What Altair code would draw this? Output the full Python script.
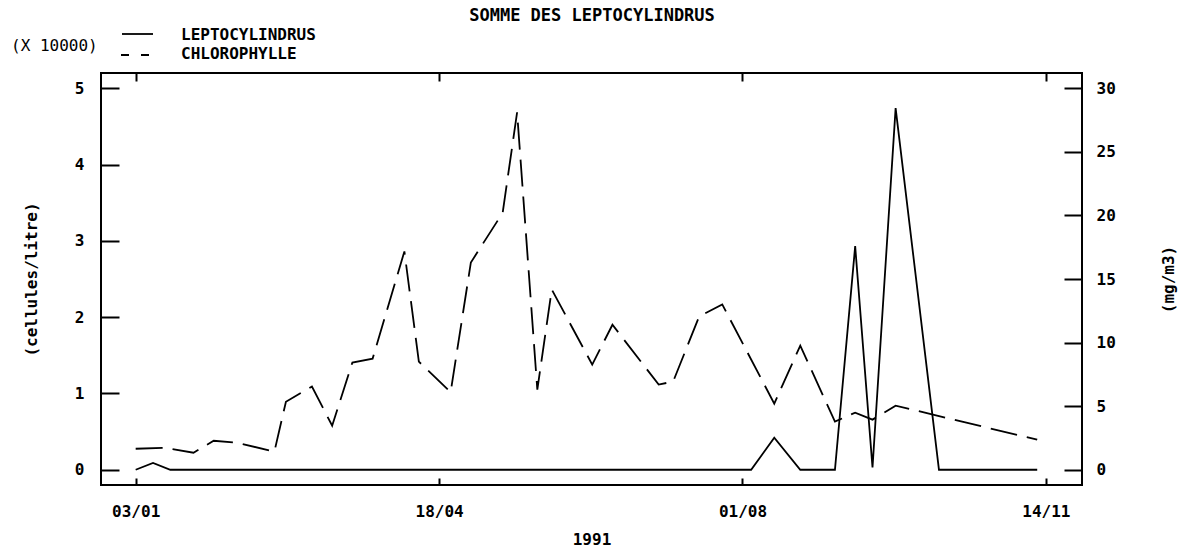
import altair as alt
import pandas as pd

# ---- data ----
lept_dates = ["1991-01-03", "1991-01-09", "1991-01-15", "1991-08-04", "1991-08-12",
              "1991-08-21", "1991-09-02", "1991-09-09", "1991-09-15", "1991-09-23",
              "1991-10-08", "1991-11-11"]
lept_values = [0, 0.09, 0, 0, 0.42, 0, 0, 2.93, 0.03, 4.74, 0, 0]  # x 10000 cells/l

chl_dates = ["1991-01-03", "1991-01-13", "1991-01-23", "1991-01-30", "1991-02-07",
             "1991-02-20", "1991-02-24", "1991-03-05", "1991-03-12", "1991-03-19",
             "1991-03-26", "1991-04-06", "1991-04-11", "1991-04-22", "1991-04-29",
             "1991-05-10", "1991-05-15", "1991-05-22", "1991-05-27", "1991-06-10",
             "1991-06-17", "1991-07-03", "1991-07-08", "1991-07-17", "1991-07-25",
             "1991-08-12", "1991-08-21", "1991-09-02", "1991-09-09", "1991-09-15",
             "1991-09-23", "1991-11-11"]
chl_values = [1.65, 1.73, 1.34, 2.28, 2.13, 1.42, 5.35, 6.54, 3.46, 8.43,
              8.74, 17.17, 8.5, 6.1, 16.3, 20.2, 28.1, 6.3, 14.17, 8.27,
              11.4, 6.7, 6.93, 12.05, 13.0, 5.2, 9.76, 3.78, 4.49, 3.94,
              5.04, 2.36]  # mg/m3

left_ticks = [0, 1, 2, 3, 4, 5]
right_ticks = [0, 5, 10, 15, 20, 25, 30]
x_tick_days = [(1, 3), (4, 18), (8, 1), (11, 14)]

FONT = "DejaVu Sans Mono"

lept_df = pd.DataFrame({"date": lept_dates, "value": lept_values})
chl_df = pd.DataFrame({"date": chl_dates, "value": chl_values})
dummy = pd.DataFrame({"a": [0]})

tick_dates = [alt.DateTime(year=1991, month=m, date=d, utc=True) for m, d in x_tick_days]
x_scale = alt.Scale(
    type="utc",
    domain=[alt.DateTime(year=1990, month=12, date=22, utc=True),
            alt.DateTime(year=1991, month=11, date=26, hours=12, utc=True)],
    nice=False,
)

lept = alt.Chart(lept_df).mark_line(color="black", strokeWidth=1.8).encode(
    x=alt.X("date:T", scale=x_scale,
            axis=alt.Axis(orient="bottom", values=tick_dates, format="%d/%m", title="1991",
                          offset=-7, tickSize=7, labelPadding=18, titlePadding=12,
                          titleFontSize=16, titleFontWeight="bold")),
    y=alt.Y("value:Q", scale=alt.Scale(domain=[-0.2, 5.2], nice=False, zero=False),
            axis=alt.Axis(orient="left", values=left_ticks, title="(cellules/litre)",
                          offset=-18, tickSize=18, labelPadding=17, titlePadding=35,
                          titleFontSize=16, titleFontWeight="bold")),
)

chl = alt.Chart(chl_df).mark_line(color="black", strokeWidth=1.8, strokeDash=[27, 10]).encode(
    x=alt.X("date:T", scale=x_scale,
            axis=alt.Axis(orient="top", values=tick_dates, labels=False, title="",
                          offset=-8, tickSize=8)),
    y=alt.Y("value:Q", scale=alt.Scale(domain=[-1.2, 31.2], nice=False, zero=False),
            axis=alt.Axis(orient="right", values=right_ticks, title="(mg/m3)", titleAngle=270,
                          offset=-18, tickSize=18, labelPadding=14, titlePadding=61,
                          titleFontSize=16, titleFontWeight="bold")),
)

title_txt = alt.Chart(dummy).mark_text(
    text="SOMME DES LEPTOCYLINDRUS", font=FONT, fontSize=17, fontWeight="bold",
    align="center", baseline="middle", color="black"
).encode(x=alt.value(491), y=alt.value(-57))

units_txt = alt.Chart(dummy).mark_text(
    text="(X 10000)", font=FONT, fontSize=16, align="left", baseline="middle", color="black"
).encode(x=alt.value(-90), y=alt.value(-27))

leg1_line = alt.Chart(dummy).mark_rule(color="black", strokeWidth=1.8).encode(
    x=alt.value(21), x2=alt.value(52), y=alt.value(-39))
leg2_line = alt.Chart(dummy).mark_rule(color="black", strokeWidth=1.8, strokeDash=[8, 12]).encode(
    x=alt.value(20), x2=alt.value(50), y=alt.value(-18))
leg1_txt = alt.Chart(dummy).mark_text(
    text="LEPTOCYLINDRUS", font=FONT, fontSize=16, fontWeight="bold",
    align="left", baseline="middle", color="black"
).encode(x=alt.value(80), y=alt.value(-38))
leg2_txt = alt.Chart(dummy).mark_text(
    text="CHLOROPHYLLE", font=FONT, fontSize=16, fontWeight="bold",
    align="left", baseline="middle", color="black"
).encode(x=alt.value(80), y=alt.value(-19))

chart = alt.layer(
    lept, chl, title_txt, units_txt, leg1_line, leg2_line, leg1_txt, leg2_txt
).resolve_scale(y="independent").resolve_axis(x="independent", y="independent").properties(
    width=981, height=412,
    autosize=alt.AutoSizeParams(type="none"),
    padding={"left": 101, "top": 73, "right": 118, "bottom": 65},
    background="white",
).configure_view(
    stroke="black", strokeWidth=2
).configure_axis(
    grid=False, domain=False, tickColor="black", tickWidth=2,
    labelFont=FONT, labelFontSize=16, labelFontWeight="bold", labelColor="black",
    titleFont=FONT, titleColor="black",
)

chart.save("out.html", embed_options={"renderer": "svg", "actions": False})
